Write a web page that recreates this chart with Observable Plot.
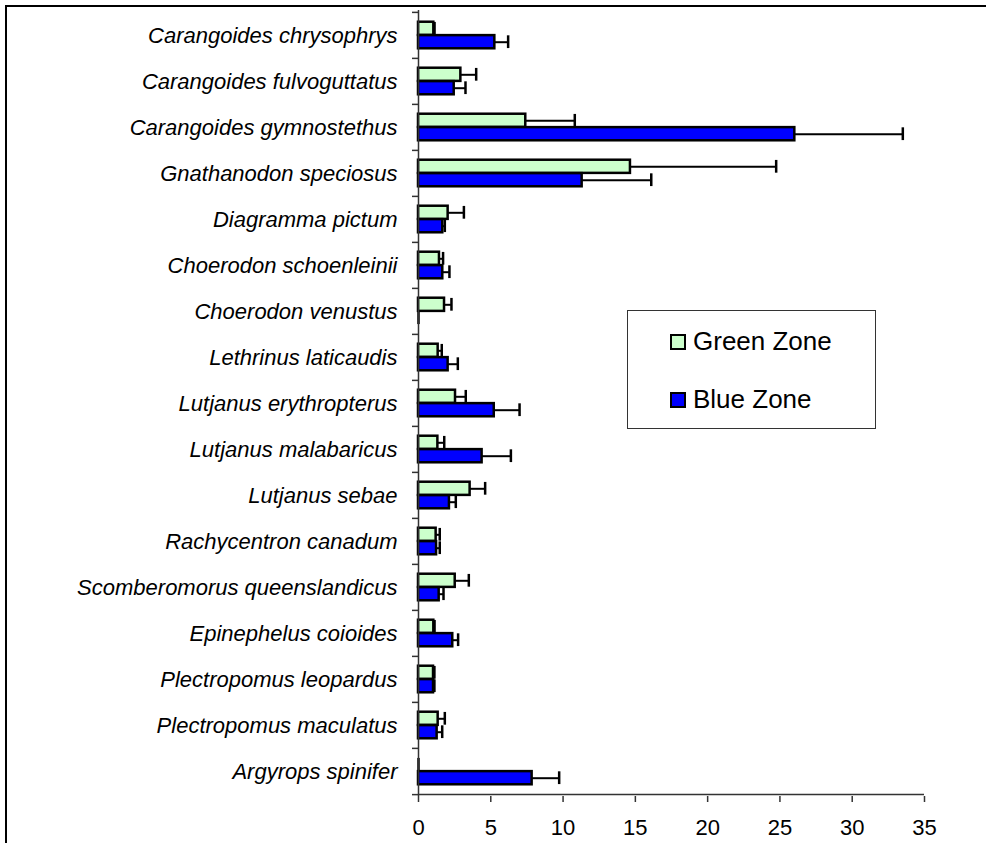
<!DOCTYPE html>
<html>
<head>
<meta charset="utf-8">
<script src="https://cdn.jsdelivr.net/npm/d3@7"></script>
<script src="https://cdn.jsdelivr.net/npm/@observablehq/plot@0.6"></script>
<style>
html, body { margin: 0; padding: 0; background: #fff; }
#wrap { position: relative; width: 986px; height: 843px; overflow: hidden; font-family: "Liberation Sans", Arial, sans-serif; }
#border { position: absolute; left: 5px; top: 5px; width: 1100px; height: 1000px; border-left: 2.5px solid #000; border-top: 2.5px solid #000; }
#chart { position: absolute; left: 0; top: 0; }
#chart svg { display: block; }
#chart g[aria-label="y-axis tick label"] text { font-style: italic; }
#legend { position: absolute; left: 627px; top: 310px; width: 247px; height: 117px; border: 1.5px solid #333; background: #fff; }
.item { position: absolute; left: 42px; height: 30px; display: flex; align-items: center; font-size: 26px; color: #000; white-space: nowrap; }
.sw { width: 12px; height: 12px; border: 2px solid #000; margin-right: 7px; }
</style>
</head>
<body>
<div id="wrap">
  <div id="border"></div>
  <div id="chart"></div>
  <div id="legend"></div>
</div>
<script>
// ---- data ----
const species = [
  "Carangoides chrysophrys",
  "Carangoides fulvoguttatus",
  "Carangoides gymnostethus",
  "Gnathanodon speciosus",
  "Diagramma pictum",
  "Choerodon schoenleinii",
  "Choerodon venustus",
  "Lethrinus laticaudis",
  "Lutjanus erythropterus",
  "Lutjanus malabaricus",
  "Lutjanus sebae",
  "Rachycentron canadum",
  "Scomberomorus queenslandicus",
  "Epinephelus coioides",
  "Plectropomus leopardus",
  "Plectropomus maculatus",
  "Argyrops spinifer"
];
const greenMean = [1.06, 2.93, 7.42, 14.66, 2.05, 1.45, 1.80, 1.36, 2.56, 1.34, 3.57, 1.22, 2.54, 1.06, 1.04, 1.36, 0];
const greenSE   = [0.05, 1.06, 3.39, 10.08, 1.09, 0.25, 0.48, 0.25, 0.71, 0.44, 1.04, 0.25, 0.94, 0.05, 0.06, 0.46, 0];
const blueMean  = [5.28, 2.47, 26.03, 11.32, 1.68, 1.68, 0, 2.05, 5.24, 4.40, 2.14, 1.25, 1.43, 2.37, 1.04, 1.29, 7.86];
const blueSE    = [0.92, 0.78, 7.47, 4.78, 0.14, 0.46, 0, 0.67, 1.75, 1.99, 0.44, 0.22, 0.30, 0.37, 0.06, 0.35, 1.87];
const xTicks = [0, 5, 10, 15, 20, 25, 30, 35];
const zones = ["Green Zone", "Blue Zone"];
const zoneColors = ["#ccffcc", "#0000ff"];

// ---- build table ----
const rows = species.map((s, i) => ({
  species: s,
  green: greenMean[i], greenHi: greenMean[i] + greenSE[i],
  blue: blueMean[i], blueHi: blueMean[i] + blueSE[i]
}));

// ---- layout ----
const W = 986, H = 843, mL = 418, mR = 62, mT = 10, mB = 47;
const BW = (H - mT - mB) / species.length;
const half = BW / 2;
const barH = 13.4, capH = 13;
const axisColor = "#333";

const chart = Plot.plot({
  width: W, height: H,
  marginLeft: mL, marginRight: mR, marginTop: mT, marginBottom: mB,
  x: { domain: [0, 35], label: null },
  y: { domain: species, type: "band", padding: 0, label: null },
  style: { fontFamily: "'Liberation Sans', Arial, sans-serif", color: "#000", background: "transparent", overflow: "visible" },
  marks: [
    // bars
    Plot.barX(rows, { x: "green", y: "species", fill: zoneColors[0], stroke: "#000", strokeWidth: 2.5,
      insetTop: half - barH, insetBottom: half }),
    Plot.barX(rows, { x: "blue", y: "species", fill: zoneColors[1], stroke: "#000", strokeWidth: 2.5,
      insetTop: half, insetBottom: half - barH }),
    // error lines
    Plot.ruleY(rows, { y: "species", x1: "green", x2: "greenHi", dy: -barH / 2, stroke: "#000", strokeWidth: 2 }),
    Plot.ruleY(rows, { y: "species", x1: "blue", x2: "blueHi", dy: barH / 2, stroke: "#000", strokeWidth: 2 }),
    // error caps
    Plot.tickX(rows, { x: "greenHi", y: "species", stroke: "#000", strokeWidth: 2.5,
      insetTop: half - barH / 2 - capH / 2, insetBottom: half + barH / 2 - capH / 2 }),
    Plot.tickX(rows, { x: "blueHi", y: "species", stroke: "#000", strokeWidth: 2.5,
      insetTop: half + barH / 2 - capH / 2, insetBottom: half - barH / 2 - capH / 2 }),
    // axis lines
    Plot.ruleX([0], { stroke: axisColor, strokeWidth: 1.5 }),
    Plot.ruleY([species[species.length - 1]], { dy: half, stroke: axisColor, strokeWidth: 1.5 }),
    // y ticks at category boundaries
    Plot.tickY(species, { y: d => d, dy: -half, insetLeft: -6, insetRight: W - mL - mR, stroke: axisColor, strokeWidth: 1.5 }),
    Plot.tickY([species[species.length - 1]], { y: d => d, dy: half, insetLeft: -6, insetRight: W - mL - mR, stroke: axisColor, strokeWidth: 1.5 }),
    // axes
    Plot.axisX({ ticks: xTicks, tickSize: 6, tickPadding: 17, fontSize: 22, stroke: axisColor, strokeWidth: 1.5, label: null }),
    Plot.axisY({ tickSize: 0, tickPadding: 21, fontSize: 22, fontStyle: "italic", label: null })
  ]
});
document.getElementById("chart").appendChild(chart);

// ---- legend ----
const legend = document.getElementById("legend");
const rowTops = [15.5, 73.5];
zones.forEach((z, i) => {
  const item = document.createElement("div");
  item.className = "item";
  item.style.top = rowTops[i] + "px";
  const sw = document.createElement("span");
  sw.className = "sw";
  sw.style.background = zoneColors[i];
  const t = document.createElement("span");
  t.textContent = z;
  item.appendChild(sw);
  item.appendChild(t);
  legend.appendChild(item);
});
</script>
</body>
</html>
